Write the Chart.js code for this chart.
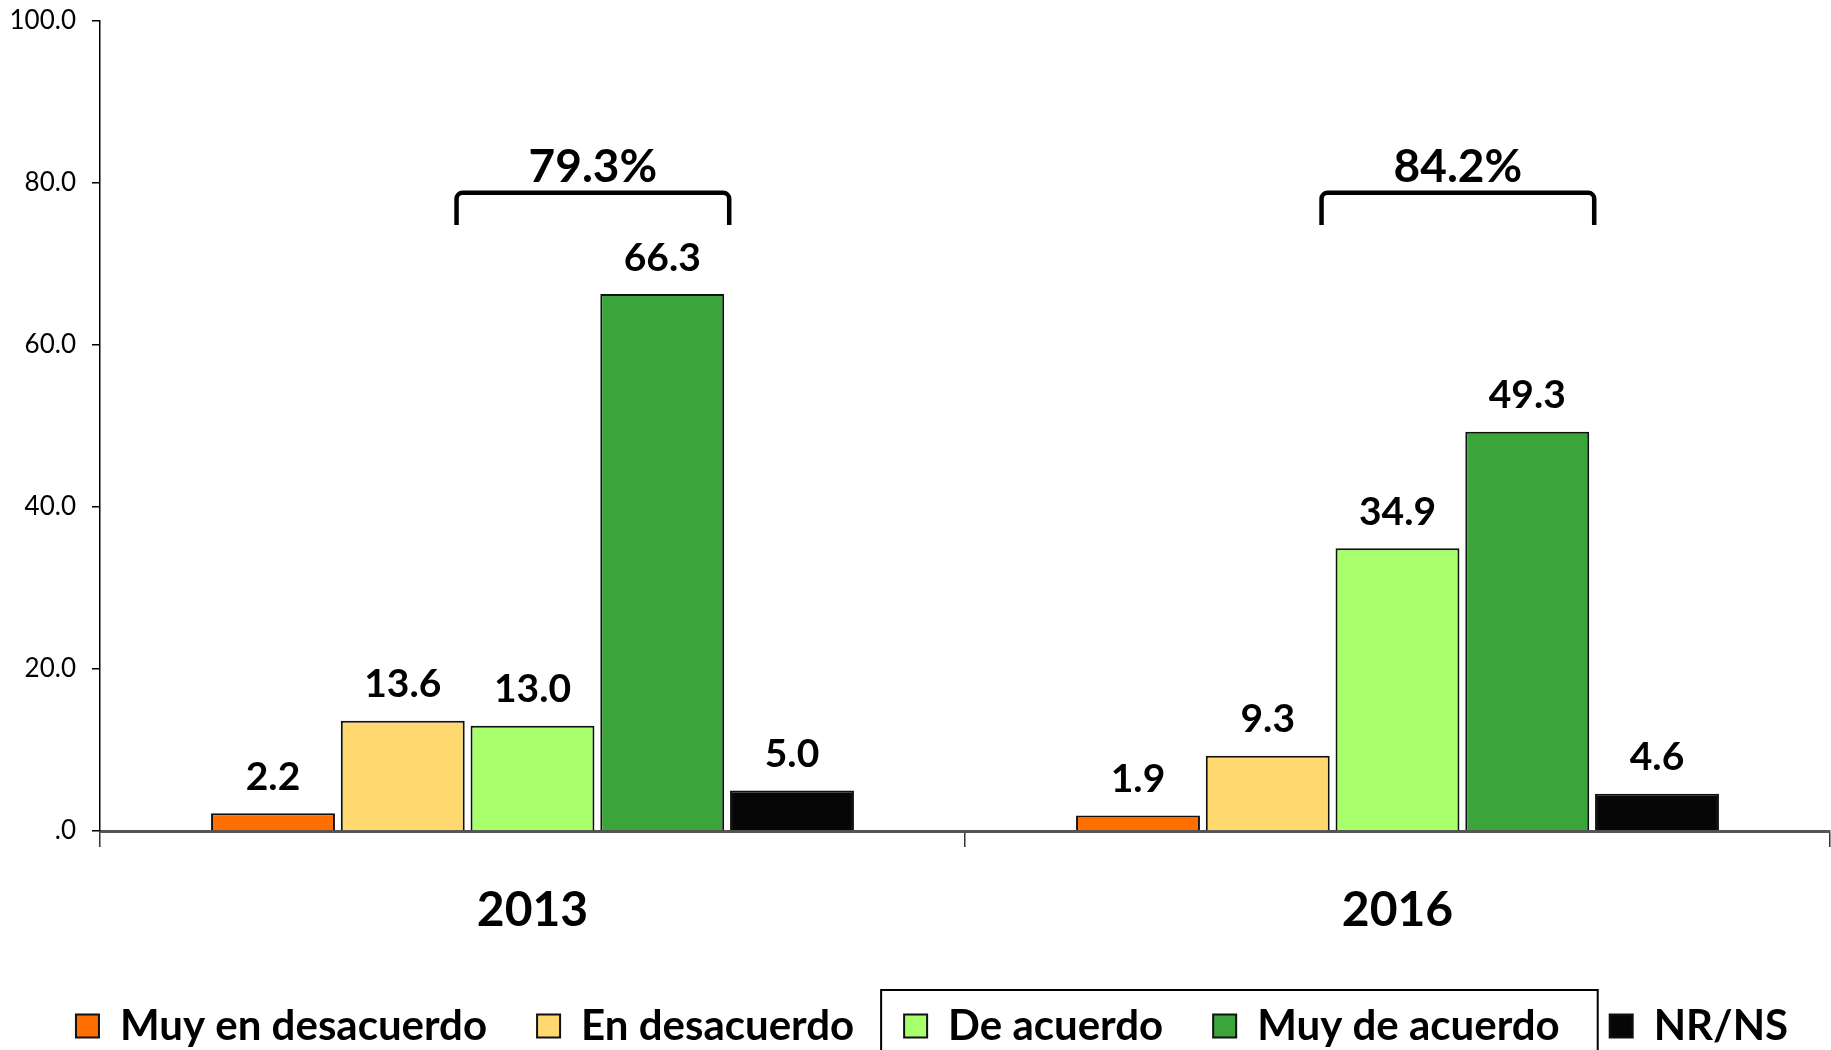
<!DOCTYPE html>
<html>
<head>
<meta charset="utf-8">
<script src="https://cdn.jsdelivr.net/npm/chart.js@4/dist/chart.umd.min.js"></script>
<style>
  html, body { margin: 0; padding: 0; background: #fff; }
  #wrap { width: 1831px; height: 1050px; position: relative; }
</style>
</head>
<body>
<div id="wrap"><canvas id="chart"></canvas></div>
<script>
const categories = ['2013', '2016'];
const seriesNames = ['Muy en desacuerdo', 'En desacuerdo', 'De acuerdo', 'Muy de acuerdo', 'NR/NS'];
const muyEnDesacuerdo = [2.2, 1.9];
const enDesacuerdo = [13.6, 9.3];
const deAcuerdo = [13.0, 34.9];
const muyDeAcuerdo = [66.3, 49.3];
const nrNs = [5.0, 4.6];
const acuerdoTotal = ['79.3%', '84.2%'];
const yTicks = [0, 20, 40, 60, 80, 100];

const colors = ['#FF6F00', '#FFD970', '#A6FF6B', '#3BA53B', '#060606'];
const FONT = 'Lato';

// value labels over every bar
const valueLabels = {
    id: 'valueLabels',
    afterDatasetsDraw(chart) {
        const ctx = chart.ctx;
        ctx.save();
        ctx.font = `bold 39px ${FONT}`;
        ctx.fillStyle = '#000';
        ctx.textAlign = 'center';
        ctx.textBaseline = 'middle';
        chart.data.datasets.forEach((ds, i) => {
            chart.getDatasetMeta(i).data.forEach((bar, j) => {
                ctx.fillText(ds.data[j].toFixed(1), bar.x, bar.y - 36);
            });
        });
        ctx.restore();
    }
};

// bracket over "De acuerdo" + "Muy de acuerdo"
const brackets = {
    id: 'brackets',
    afterDatasetsDraw(chart) {
        const ctx = chart.ctx;
        const y = chart.scales.y;
        const a = chart.getDatasetMeta(2).data;
        const b = chart.getDatasetMeta(3).data;
        const top = y.getPixelForValue(78.8);
        const bottom = y.getPixelForValue(74.8);
        const textY = y.getPixelForValue(82.0);
        ctx.save();
        ctx.strokeStyle = '#000';
        ctx.lineWidth = 4.5;
        ctx.lineJoin = 'round';
        categories.forEach((c, j) => {
            const left = a[j].x - a[j].width / 2 - 14;
            const right = b[j].x + b[j].width / 2 + 5;
            ctx.beginPath();
            ctx.moveTo(left, bottom);
            ctx.arcTo(left, top, right, top, 6);
            ctx.arcTo(right, top, right, bottom, 6);
            ctx.lineTo(right, bottom);
            ctx.stroke();
            ctx.font = `bold 46px ${FONT}`;
            ctx.fillStyle = '#000';
            ctx.textAlign = 'center';
            ctx.textBaseline = 'middle';
            ctx.fillText(acuerdoTotal[j], (left + right) / 2, textY);
        });
        ctx.restore();
    }
};

// nudge legend to the right, and frame two of its entries
const legendFrame = {
    id: 'legendFrame',
    afterLayout(chart) {
        if (chart.legend) {
            chart.legend.left += 17;
            chart.legend.right += 17;
        }
    },
    afterDraw(chart) {
        const hb = chart.legend.legendHitBoxes;
        if (!hb || hb.length < 4) return;
        const ctx = chart.ctx;
        const left = hb[2].left - 23;
        const right = hb[3].left + hb[3].width + 38;
        const top = hb[2].top + hb[2].height / 2 - 36;
        ctx.save();
        ctx.strokeStyle = '#000';
        ctx.lineWidth = 2;
        ctx.strokeRect(left, top, right - left, chart.height - top + 10);
        ctx.restore();
    }
};

const seriesData = [muyEnDesacuerdo, enDesacuerdo, deAcuerdo, muyDeAcuerdo, nrNs];

new Chart(document.getElementById('chart'), {
    type: 'bar',
    data: {
        labels: categories,
        datasets: seriesNames.map((name, i) => ({
            label: name,
            data: seriesData[i],
            backgroundColor: colors[i],
            borderColor: '#111',
            borderWidth: 2,
            categoryPercentage: 0.75,
            barPercentage: 0.955
        }))
    },
    options: {
        responsive: true,
        maintainAspectRatio: false,
        animation: false,
        layout: { padding: { top: 21, right: 1, left: 0, bottom: -7 } },
        plugins: {
            tooltip: { enabled: false },
            legend: {
                position: 'bottom',
                labels: {
                    font: { family: FONT, size: 42, weight: 'bold' },
                    color: '#000',
                    boxWidth: 23,
                    boxHeight: 23,
                    padding: 50
                }
            }
        },
        scales: {
            x: {
                afterFit: axis => { axis.height = 124; },
                grid: { drawOnChartArea: false, tickLength: 16, color: '#333', lineWidth: 1.5 },
                border: { color: '#555', width: 3 },
                ticks: {
                    font: { family: FONT, size: 48, weight: 'bold' },
                    color: '#000',
                    padding: 35
                }
            },
            y: {
                min: 0,
                max: 100,
                afterBuildTicks: axis => { axis.ticks = yTicks.map(v => ({ value: v })); },
                afterFit: axis => { axis.width = 100; axis.paddingTop = 0; axis.paddingBottom = 0; },
                grid: { drawOnChartArea: false, tickLength: 8, color: '#000', lineWidth: 1.5 },
                border: { color: '#000', width: 1.5 },
                ticks: {
                    font: { family: FONT, size: 26 },
                    color: '#000',
                    padding: 16,
                    callback: v => v === 0 ? '.0' : v.toFixed(1)
                }
            }
        }
    },
    plugins: [valueLabels, brackets, legendFrame]
});
</script>
</body>
</html>
